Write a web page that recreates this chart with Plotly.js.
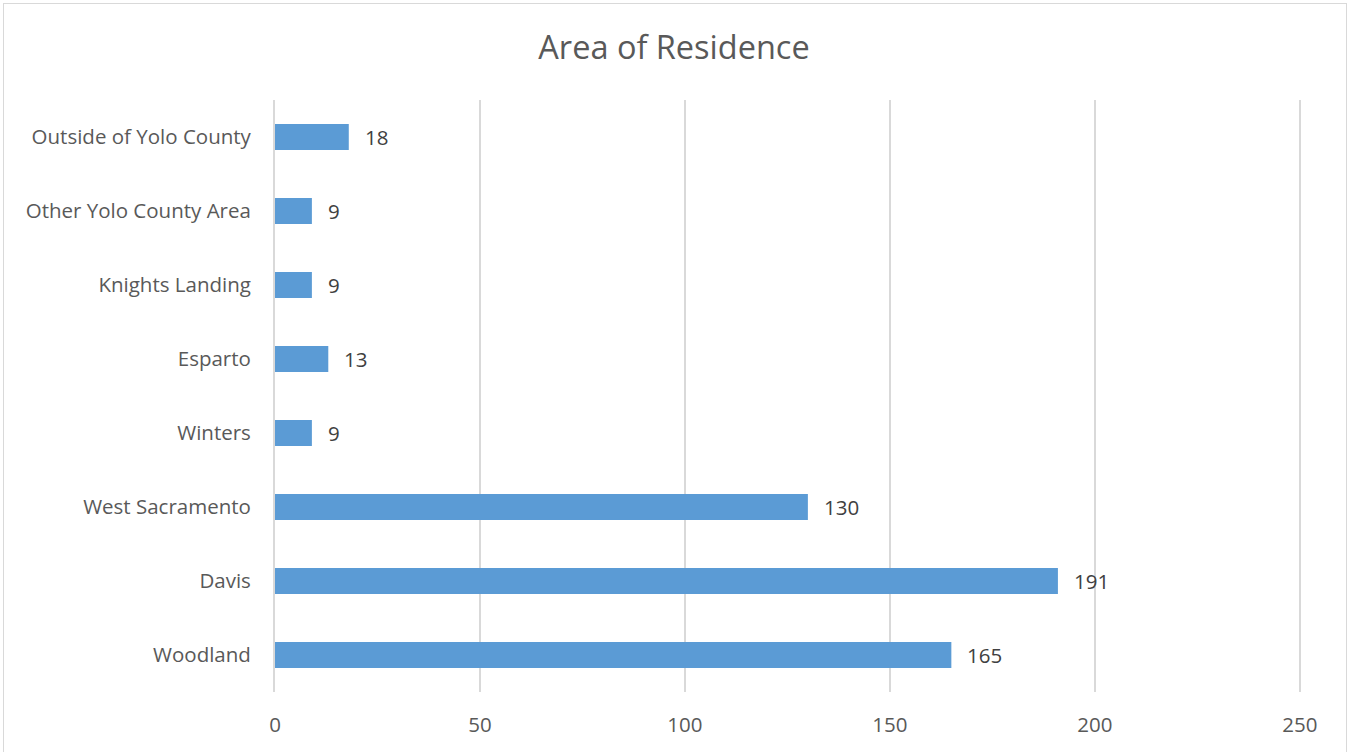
<!DOCTYPE html>
<html><head><meta charset="utf-8">
<script src="https://cdn.plot.ly/plotly-3.0.1.min.js"></script>
<style>html,body{margin:0;padding:0;background:#fff;overflow:hidden}
#c{width:1348px;height:752px;position:absolute;left:0;top:0}
#b{position:absolute;left:3px;top:3px;width:1342px;height:760px;border:1px solid #d9d9d9;pointer-events:none}</style>
</head><body><div id="c"></div><div id="b"></div>
<script>
const categories = ["Woodland","Davis","West Sacramento","Winters","Esparto","Knights Landing","Other Yolo County Area","Outside of Yolo County"];
const values = [165,191,130,9,13,9,9,18];
const xTicks = [0,50,100,150,200,250];

const font = "Open Sans, sans-serif";
const data = [{
  type:'bar', orientation:'h', y:categories, x:values,
  marker:{color:'#5b9bd5'}, width:0.35, hoverinfo:'none'
}];
const annotations = categories.map((c,i)=>({
  x:values[i], y:c, xref:'x', yref:'y', text:String(values[i]),
  showarrow:false, xanchor:'left', xshift:14,
  font:{family:font,size:20.5,color:'#404040'}
}));
const layout = {
  width:1348, height:752,
  margin:{l:275,r:47,t:100,b:60},
  paper_bgcolor:'#fff', plot_bgcolor:'#fff',
  title:{text:'Area of Residence', x:0.5, xanchor:'center', y:0.937, yanchor:'middle',
    font:{family:font,size:32.5,color:'#595959'}},
  xaxis:{range:[0,250.3], tickvals:xTicks, ticktext:xTicks.map(String), showgrid:true,
    gridcolor:'#d9d9d9', gridwidth:2, zeroline:false, showline:false,
    ticks:'outside', ticklen:14, tickcolor:'rgba(0,0,0,0)',
    tickfont:{family:font,size:20.5,color:'#595959'}, fixedrange:true},
  yaxis:{type:'category', categoryorder:'array', categoryarray:categories,
    showgrid:false, zeroline:false, showline:true, linecolor:'#d9d9d9', linewidth:2,
    ticks:'outside', ticklen:18, tickcolor:'rgba(0,0,0,0)',
    tickfont:{family:font,size:20.5,color:'#595959'}, fixedrange:true},
  annotations:annotations,
  showlegend:false
};
Plotly.newPlot('c', data, layout, {displayModeBar:false, staticPlot:true});
</script></body></html>
